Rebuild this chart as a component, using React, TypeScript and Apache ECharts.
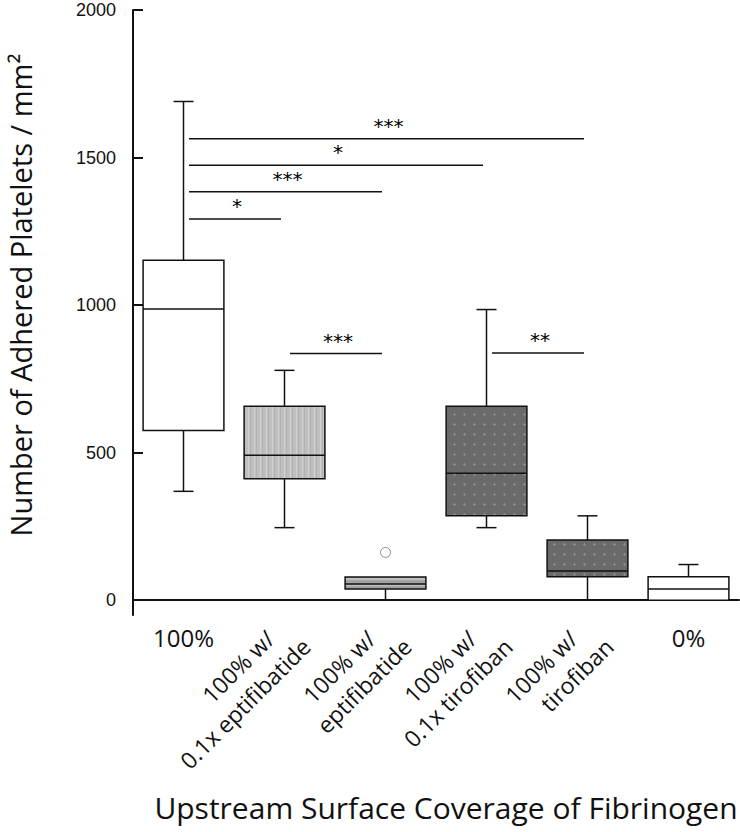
import React, { useEffect, useRef } from "react";
import * as echarts from "echarts";

const categories = [
  "100%",
  "100% w/\n0.1x eptifibatide",
  "100% w/\neptifibatide",
  "100% w/\n0.1x tirofiban",
  "100% w/\ntirofiban",
  "0%",
];
const whiskerLow = [369, 246, 0, 246, 0, 0];
const quartile1 = [575, 412, 38, 286, 80, 0];
const medians = [987, 491, 55, 430, 99, 38];
const quartile3 = [1152, 657, 79, 657, 204, 80];
const whiskerHigh = [1690, 779, 79, 985, 286, 121];
const outliers = [[2, 162]];
const yTicks = [0, 500, 1000, 1500, 2000];
const sigFrom = [0, 0, 0, 0, 1, 3];
const sigTo = [4, 3, 2, 1, 2, 4];
const sigY = [1564, 1474, 1384, 1292, 836, 838];
const sigLabels = ["***", "*", "***", "*", "***", "**"];

const FONT = "'Open Sans', 'Noto Sans', sans-serif";

function makePattern(kind: string): any {
  const c = document.createElement("canvas");
  if (kind === "lightV") {
    c.width = 6; c.height = 6;
    const g = c.getContext("2d")!;
    g.fillStyle = "#bfbfbf"; g.fillRect(0, 0, 6, 6);
    g.fillStyle = "#d2d2d2"; g.fillRect(2, 0, 1, 6);
    g.fillStyle = "#b4b4b4"; g.fillRect(4, 0, 1, 6);
  } else if (kind === "midH") {
    c.width = 6; c.height = 6;
    const g = c.getContext("2d")!;
    g.fillStyle = "#a2a2a2"; g.fillRect(0, 0, 6, 6);
    g.fillStyle = "#c0c0c0"; g.fillRect(0, 2, 6, 2);
  } else {
    c.width = 10; c.height = 10;
    const g = c.getContext("2d")!;
    g.fillStyle = "#6a6a6a"; g.fillRect(0, 0, 10, 10);
    g.fillStyle = "#8c8c8c";
    g.fillRect(4, 3, 1, 3); g.fillRect(3, 4, 3, 1);
  }
  return { image: c, repeat: "repeat" };
}

export default function App() {
  const ref = useRef<HTMLDivElement>(null);
  useEffect(() => {
    if (!ref.current) return;
    const chart = echarts.init(ref.current, undefined, { renderer: "svg" });
    const fills = ["#ffffff", makePattern("lightV"), makePattern("midH"), makePattern("dots"), makePattern("dots"), "#ffffff"];
    const stroke = "#111";

    const boxData = categories.map((_, i) => [i, whiskerLow[i], quartile1[i], medians[i], quartile3[i], whiskerHigh[i]]);
    const sigData = sigFrom.map((f, i) => [f, sigTo[i], sigY[i]]);

    const titles: any[] = [
      {
        type: "text",
        x: 20.5,
        y: 295,
        rotation: Math.PI / 2,
        style: { text: "Number of Adhered Platelets / mm²", font: `29px ${FONT}`, fill: "#111", textAlign: "center", textVerticalAlign: "middle" },
      },
      {
        type: "text",
        x: 446,
        y: 807,
        style: { text: "Upstream Surface Coverage of Fibrinogen", font: `30px ${FONT}`, fill: "#111", textAlign: "center", textVerticalAlign: "middle" },
      },
    ];

    chart.setOption({
      animation: false,
      grid: { left: 133, right: 1, top: 10, bottom: 217, containLabel: false },
      xAxis: [
        {
          type: "category",
          data: categories,
          boundaryGap: true,
          axisLine: { lineStyle: { color: stroke, width: 2 } },
          axisTick: { inside: true, length: 10, interval: 0, alignWithLabel: false, lineStyle: { color: stroke, width: 2 } },
          axisLabel: {
            interval: 0,
            margin: 10,
            color: "#111",
            fontFamily: FONT,
            fontSize: 24,
            formatter: (v: string) => (v.includes("\n") ? "" : v),
          },
          splitLine: { show: false },
        },
      ],
      yAxis: {
        type: "value",
        min: -50,
        max: 2000,
        axisLine: { show: true, lineStyle: { color: stroke, width: 2 } },
        axisTick: { show: true, inside: true, length: 10, customValues: yTicks, lineStyle: { color: stroke, width: 2 } },
        axisLabel: {
          customValues: yTicks,
          margin: 17,
          color: "#111",
          fontFamily: "'Liberation Sans', Arial, sans-serif",
          fontSize: 18,
          formatter: (v: number) => String(v),
        },
        splitLine: { show: false },
      },
      graphic: titles,
      series: [
        {
          type: "custom",
          name: "boxes",
          data: boxData,
          encode: { x: 0, y: [1, 2, 3, 4, 5] },
          renderItem: (params: any, api: any) => {
            const x = api.value(0);
            const lo = api.coord([x, api.value(1)]);
            const p1 = api.coord([x, api.value(2)]);
            const md = api.coord([x, api.value(3)]);
            const p3 = api.coord([x, api.value(4)]);
            const hi = api.coord([x, api.value(5)]);
            const w = api.size([1, 0])[0] * 0.8;
            const cx = p1[0];
            const cap = 20;
            const st = { stroke, lineWidth: 1.5, fill: "none" };
            const children: any[] = [];
            if (hi[1] < p3[1] - 0.5) {
              children.push({ type: "line", shape: { x1: cx, y1: p3[1], x2: cx, y2: hi[1] }, style: st });
              children.push({ type: "line", shape: { x1: cx - cap / 2, y1: hi[1], x2: cx + cap / 2, y2: hi[1] }, style: st });
            }
            if (lo[1] > p1[1] + 0.5) {
              children.push({ type: "line", shape: { x1: cx, y1: p1[1], x2: cx, y2: lo[1] }, style: st });
              children.push({ type: "line", shape: { x1: cx - cap / 2, y1: lo[1], x2: cx + cap / 2, y2: lo[1] }, style: st });
            }
            children.push({
              type: "rect",
              shape: { x: cx - w / 2, y: p3[1], width: w, height: p1[1] - p3[1] },
              style: { fill: fills[params.dataIndex], stroke, lineWidth: 1.5 },
            });
            children.push({ type: "line", shape: { x1: cx - w / 2, y1: md[1], x2: cx + w / 2, y2: md[1] }, style: st });
            return { type: "group", children };
          },
          z: 2,
        },
        {
          type: "scatter",
          name: "outliers",
          data: outliers,
          symbol: "circle",
          symbolSize: 10,
          itemStyle: { color: "#ffffff", borderColor: "#777", borderWidth: 1 },
          z: 3,
        },
        {
          type: "custom",
          name: "significance",
          data: sigData,
          encode: { x: [0, 1], y: 2 },
          renderItem: (params: any, api: any) => {
            const a = api.coord([api.value(0), api.value(2)]);
            const b = api.coord([api.value(1), api.value(2)]);
            const x1 = a[0] + 5.5;
            const x2 = b[0] - 3.5;
            return {
              type: "group",
              children: [
                { type: "line", shape: { x1, y1: a[1], x2, y2: a[1] }, style: { stroke, lineWidth: 1.5 } },
                {
                  type: "text",
                  x: (x1 + x2) / 2 + 2,
                  y: a[1] - 13,
                  style: { text: sigLabels[params.dataIndex], font: "20px 'DejaVu Sans', sans-serif", fill: "#000", textAlign: "center", textVerticalAlign: "middle" },
                },
              ],
            };
          },
          z: 2,
        },
      ],
    });

    const rotatedLabels: any[] = [];
    categories.forEach((c, i) => {
      if (!c.includes("\n")) return;
      const p = chart.convertToPixel({ gridIndex: 0 }, [i, -50]) as number[];
      const lines = c.split("\n");
      const font = `23px ${FONT}`;
      rotatedLabels.push({
        type: "text",
        x: p[0] - 14.5,
        y: p[1] + 19.5,
        rotation: Math.PI / 4,
        style: { text: lines[0], font, fill: "#111", textAlign: "right", textVerticalAlign: "middle" },
      });
      rotatedLabels.push({
        type: "text",
        x: p[0] + 21.5,
        y: p[1] + 27.3,
        rotation: Math.PI / 4,
        style: { text: lines[1], font, fill: "#111", textAlign: "right", textVerticalAlign: "middle" },
      });
    });
    chart.setOption({ graphic: [...titles, ...rotatedLabels] });

    return () => chart.dispose();
  }, []);
  return <div ref={ref} style={{ position: "absolute", left: 0, top: 0, width: 740, height: 832 }} />;
}
